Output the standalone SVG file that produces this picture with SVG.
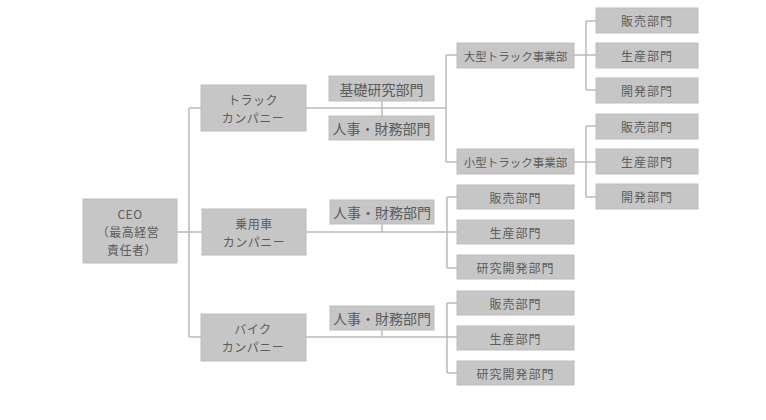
<svg xmlns="http://www.w3.org/2000/svg" width="766" height="420" viewBox="0 0 766 420">
<style>
.b{fill:#c6c6c6;stroke:#bdbdbd;stroke-width:1}
.t{font-family:"Noto Sans CJK JP","Noto Sans",sans-serif;fill:#5c5c5c;text-anchor:middle;dominant-baseline:central}
.l{font-size:14px}
.m{font-size:12px;letter-spacing:0.5px}
.s{font-size:12px;letter-spacing:1px}
.x{font-size:11.5px}
.c{fill:none;stroke:#bababa;stroke-width:1.5}
</style>
<rect width="766" height="420" fill="#ffffff"/>
<g id="connectors" class="c">
<path d="M177,232 H189 M189,108 V337 M189,108 H201 M189,232 H202 M189,337 H201"/>
<path d="M306,108 H446 M382,101 V116 M446,55 V162 M446,55 H457 M446,162 H457"/>
<path d="M574,55 H596 M586,21 V90 M586,21 H596 M586,90 H596"/>
<path d="M574,162 H596 M586,126 V197 M586,126 H596 M586,197 H596"/>
<path d="M306,232 H457 M382,224 V232 M447,197 V268 M447,197 H457 M447,268 H457"/>
<path d="M306,337 H457 M382,330 V337 M447,303 V373 M447,303 H457 M447,373 H457"/>
</g>
<g id="ceo"><rect class="b" x="83" y="199" width="94" height="64"/>
<text class="t m" x="130" y="213">CEO</text><text class="t m" x="128" y="231">（最高経営</text><text class="t m" x="132" y="249">責任者）</text></g>
<g id="truck"><rect class="b" x="201" y="85" width="105" height="46"/>
<text class="t m" x="253" y="99">トラック</text><text class="t m" x="253" y="117">カンパニー</text></g>
<g id="car"><rect class="b" x="202" y="209" width="104" height="46"/>
<text class="t m" x="254" y="223">乗用車</text><text class="t m" x="254" y="241">カンパニー</text></g>
<g id="bike"><rect class="b" x="201" y="314" width="105" height="47"/>
<text class="t m" x="253" y="328">バイク</text><text class="t m" x="253" y="346">カンパニー</text></g>
<g id="truck-research"><rect class="b" x="329" y="76" width="105" height="25"/><text class="t l" x="381.5" y="88.5">基礎研究部門</text></g>
<g id="truck-hr"><rect class="b" x="329" y="116" width="105" height="24"/><text class="t l" x="381.5" y="128">人事・財務部門</text></g>
<g id="car-hr"><rect class="b" x="330" y="200" width="104" height="24"/><text class="t l" x="382" y="212">人事・財務部門</text></g>
<g id="bike-hr"><rect class="b" x="330" y="306" width="104" height="24"/><text class="t l" x="382" y="318">人事・財務部門</text></g>
<g id="large-truck"><rect class="b" x="457" y="43" width="117" height="25"/><text class="t x" x="515.5" y="55.5">大型トラック事業部</text></g>
<g id="small-truck"><rect class="b" x="457" y="149" width="117" height="25"/><text class="t x" x="515.5" y="161.5">小型トラック事業部</text></g>
<g id="lt-sales"><rect class="b" x="596" y="8" width="102" height="25"/><text class="t s" x="647" y="20.5">販売部門</text></g>
<g id="lt-prod"><rect class="b" x="596" y="43" width="102" height="25"/><text class="t s" x="647" y="55.5">生産部門</text></g>
<g id="lt-dev"><rect class="b" x="596" y="78" width="102" height="25"/><text class="t s" x="647" y="90.5">開発部門</text></g>
<g id="st-sales"><rect class="b" x="596" y="114" width="102" height="25"/><text class="t s" x="647" y="126.5">販売部門</text></g>
<g id="st-prod"><rect class="b" x="596" y="149" width="102" height="25"/><text class="t s" x="647" y="161.5">生産部門</text></g>
<g id="st-dev"><rect class="b" x="596" y="184" width="102" height="25"/><text class="t s" x="647" y="196.5">開発部門</text></g>
<g id="car-sales"><rect class="b" x="457" y="185" width="117" height="24"/><text class="t s" x="515.5" y="197">販売部門</text></g>
<g id="car-prod"><rect class="b" x="457" y="220" width="117" height="24"/><text class="t s" x="515.5" y="232">生産部門</text></g>
<g id="car-rd"><rect class="b" x="457" y="255" width="117" height="24"/><text class="t s" x="515.5" y="267">研究開発部門</text></g>
<g id="bike-sales"><rect class="b" x="457" y="291" width="117" height="24"/><text class="t s" x="515.5" y="303">販売部門</text></g>
<g id="bike-prod"><rect class="b" x="457" y="326" width="117" height="24"/><text class="t s" x="515.5" y="338">生産部門</text></g>
<g id="bike-rd"><rect class="b" x="457" y="361" width="117" height="24"/><text class="t s" x="515.5" y="373">研究開発部門</text></g>
</svg>
